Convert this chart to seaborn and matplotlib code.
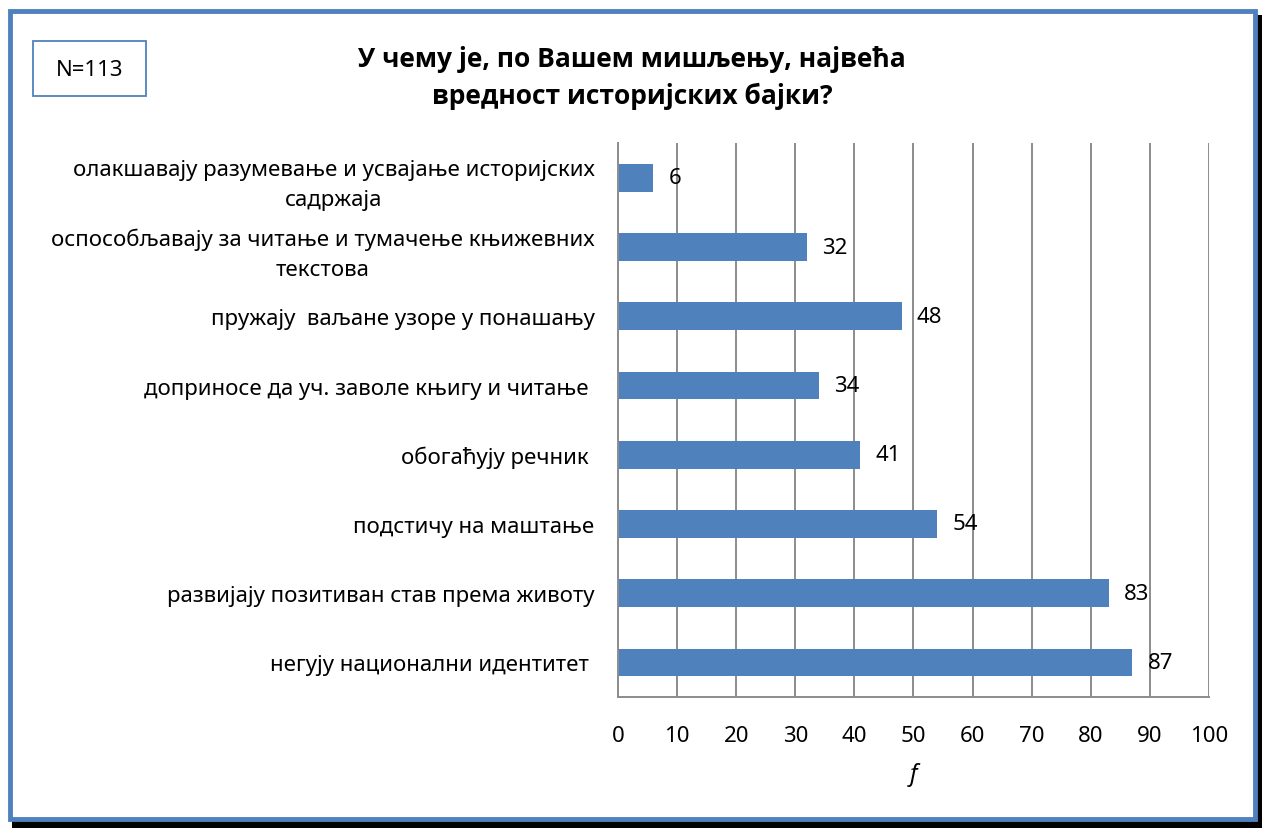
import matplotlib
matplotlib.use("Agg")
import matplotlib.pyplot as plt
import matplotlib.patches as mpatches
import seaborn as sns
import pandas as pd
import numpy as np

# Survey answers, top to bottom as displayed
categories = [
    "олакшавају разумевање и усвајање историјских\nсадржаја",
    "оспособљавају за читање и тумачење књижевних\nтекстова",
    "пружају  ваљане узоре у понашању",
    "доприносе да уч. заволе књигу и читање ",
    "обогаћују речник ",
    "подстичу на маштање",
    "развијају позитиван став према животу",
    "негују национални идентитет ",
]
counts = [6, 32, 48, 34, 41, 54, 83, 87]
x_ticks = list(range(0, 101, 10))
title_text = "У чему је, по Вашем мишљењу, највећа\nвредност историјских бајки?"
n_text = "N=113"
x_label = "f"

sns.set_theme(style="white")
plt.rcParams["font.family"] = ["Noto Sans", "DejaVu Sans"]
plt.rcParams["text.color"] = "black"
plt.rcParams["xtick.labelcolor"] = "black"
plt.rcParams["ytick.labelcolor"] = "black"
plt.rcParams["axes.labelcolor"] = "black"

df = pd.DataFrame({"answer": categories, "f": counts})

fig = plt.figure(figsize=(12.62, 8.29), dpi=100)
ax = fig.add_axes([0.4897, 0.158, 0.4683, 0.668])

bar_color = "#4F81BD"
sns.barplot(data=df, y="answer", x="f", orient="h", color=bar_color,
            saturation=1, width=0.4, ax=ax, edgecolor="none")

grid_c = "#8C8C8C"
fs = 16
ax.set_xlim(0, 100)
ax.set_ylim(len(categories) - 0.5, -0.5)
ax.set_xticks(x_ticks)
ax.set_xticklabels([str(t) for t in x_ticks], fontsize=fs)
ax.xaxis.grid(True, color=grid_c, linewidth=1.4)
ax.yaxis.grid(False)
ax.set_axisbelow(True)

ax.set_yticks(np.arange(len(categories)))
ax.set_yticklabels(categories, fontsize=fs, multialignment="center", linespacing=1.55)
ax.set_yticks(np.arange(len(categories) + 1) - 0.5, minor=True)
ax.tick_params(axis="y", which="major", length=0, pad=17)
ax.tick_params(axis="y", which="minor", length=6, width=1.4, color=grid_c, direction="out")
ax.tick_params(axis="x", which="major", length=6, width=1.4, color=grid_c,
               direction="out", pad=14)

for side in ["top", "right"]:
    ax.spines[side].set_visible(False)
for side in ["left", "bottom"]:
    ax.spines[side].set_color(grid_c)
    ax.spines[side].set_linewidth(1.4)

ax.set_ylabel("")
ax.set_xlabel(x_label, fontsize=fs + 1, style="italic", labelpad=12)

for cont in ax.containers:
    ax.bar_label(cont, labels=[str(v) for v in counts], padding=11, fontsize=fs,
                 color="black")

fig.text(0.501, 0.906, title_text, ha="center", va="center",
         fontsize=19, fontweight="bold", linespacing=1.5,
         family=["Open Sans", "DejaVu Sans"])

# Outer chart frame with drop shadow
W, H = 1262, 829
fig.patches.append(mpatches.Rectangle((12 / W, 0), 1 - 12 / W, 1 - 16 / H,
                                      transform=fig.transFigure, facecolor="black",
                                      edgecolor="none", zorder=-3))
fig.patches.append(mpatches.Rectangle((10 / W, 9 / H), 1 - 17 / W, 1 - 21 / H,
                                      transform=fig.transFigure, facecolor="white",
                                      edgecolor="#4F81BD", linewidth=3.5, zorder=-2))

# Sample size box
fig.patches.append(mpatches.Rectangle((33 / W, 1 - 97 / H), 113 / W, 55 / H,
                                      transform=fig.transFigure, facecolor="white",
                                      edgecolor="#4F81BD", linewidth=1.3, zorder=1))
fig.text(89.5 / W, 1 - 70 / H, n_text, ha="center", va="center", fontsize=16, zorder=2)

fig.savefig("out.png", dpi=100, facecolor="white")
